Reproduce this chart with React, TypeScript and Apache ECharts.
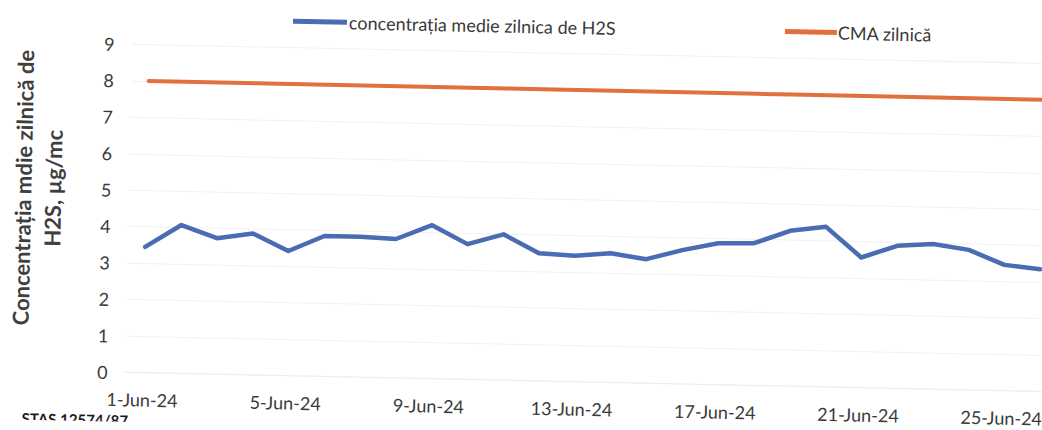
import React, { useEffect, useRef } from "react";
import * as echarts from "echarts";

const dates = [
  "1-Jun-24", "2-Jun-24", "3-Jun-24", "4-Jun-24", "5-Jun-24", "6-Jun-24", "7-Jun-24",
  "8-Jun-24", "9-Jun-24", "10-Jun-24", "11-Jun-24", "12-Jun-24", "13-Jun-24", "14-Jun-24",
  "15-Jun-24", "16-Jun-24", "17-Jun-24", "18-Jun-24", "19-Jun-24", "20-Jun-24", "21-Jun-24",
  "22-Jun-24", "23-Jun-24", "24-Jun-24", "25-Jun-24", "26-Jun-24",
];

const h2sValues = [
  3.45, 4.07, 3.73, 3.88, 3.42, 3.85, 3.85, 3.81, 4.21, 3.71, 4.0, 3.5, 3.45,
  3.54, 3.4, 3.67, 3.88, 3.9, 4.26, 4.39, 3.57, 3.91, 3.98, 3.84, 3.45, 3.35,
];

const cmaValues = [
  8, 8, 8, 8, 8, 8, 8, 8, 8, 8, 8, 8, 8,
  8, 8, 8, 8, 8, 8, 8, 8, 8, 8, 8, 8, 8,
];

const seriesNames = ["concentrația medie zilnica de H2S", "CMA zilnică"];
const yAxisTitle = "Concentrația mdie zilnică de\nH2S, µg/mc";
const footnote = "STAS 12574/87";

const FONT = "Lato, 'Open Sans', sans-serif";
const BLUE = "#4a6cb3";
const ORANGE = "#e1703c";
const TEXT = "#3a3a3a";

export default function App() {
  const ref = useRef<HTMLDivElement>(null);

  useEffect(() => {
    if (!ref.current) return;
    const chart = echarts.init(ref.current, null, { renderer: "svg" });
    chart.setOption({
      animation: false,
      backgroundColor: "#ffffff",
      textStyle: { fontFamily: FONT },
      legend: [
        {
          data: [seriesNames[0]],
          left: 284,
          top: 12,
          icon: "rect",
          itemWidth: 54,
          itemHeight: 5,
          textStyle: { fontFamily: FONT, fontSize: 18, color: TEXT, padding: [0, 0, 0, -3] },
        },
        {
          data: [seriesNames[1]],
          left: 776,
          top: 12,
          icon: "rect",
          itemWidth: 52,
          itemHeight: 5,
          textStyle: { fontFamily: FONT, fontSize: 18, color: TEXT, padding: [0, 0, 0, -4] },
        },
      ],
      grid: { left: 128, right: 1, top: 52.4, bottom: 49.5, containLabel: false },
      xAxis: {
        type: "category",
        data: dates,
        boundaryGap: true,
        axisLine: { show: true, lineStyle: { color: "#eeeeee", width: 1 } },
        axisTick: { show: false },
        axisLabel: {
          interval: 3,
          margin: 18,
          fontFamily: FONT,
          fontSize: 18,
          color: TEXT,
        },
        splitLine: { show: false },
      },
      yAxis: {
        type: "value",
        min: 0,
        max: 9,
        interval: 1,
        axisLine: { show: false },
        axisTick: { show: false },
        axisLabel: { margin: 17, fontFamily: FONT, fontSize: 18, color: TEXT },
        splitLine: { show: true, lineStyle: { color: "#f1f1f1", width: 1 } },
      },
      graphic: [
        {
          type: "text",
          x: 37.5,
          y: 198,
          rotation: Math.PI / 2,
          style: {
            text: yAxisTitle,
            fontFamily: FONT,
            fontSize: 22,
            fontWeight: "bold",
            fill: "#3f3f3f",
            align: "center",
            verticalAlign: "middle",
            lineHeight: 30,
          },
        },
        {
          type: "text",
          x: 26,
          y: 436,
          style: {
            text: footnote,
            fontFamily: FONT,
            fontSize: 15,
            fontWeight: "bold",
            fill: "#1a1a1a",
            align: "left",
            verticalAlign: "bottom",
          },
        },
      ],
      series: [
        {
          name: seriesNames[0],
          type: "line",
          data: h2sValues,
          showSymbol: false,
          symbol: "none",
          lineStyle: { color: BLUE, width: 4.5, cap: "round", join: "round" },
          itemStyle: { color: BLUE },
        },
        {
          name: seriesNames[1],
          type: "line",
          data: cmaValues,
          showSymbol: false,
          symbol: "none",
          lineStyle: { color: ORANGE, width: 4, cap: "round", join: "round" },
          itemStyle: { color: ORANGE },
        },
      ],
    });
    return () => chart.dispose();
  }, []);

  return (
    <div
      style={{
        position: "fixed",
        left: 0,
        top: 0,
        width: 1042,
        height: 430,
        overflow: "hidden",
        background: "#ffffff",
      }}
    >
      <div
        ref={ref}
        style={{
          width: 1060,
          height: 430,
          transform: "rotate(1.2deg)",
          transformOrigin: "521px 215px",
        }}
      />
    </div>
  );
}
